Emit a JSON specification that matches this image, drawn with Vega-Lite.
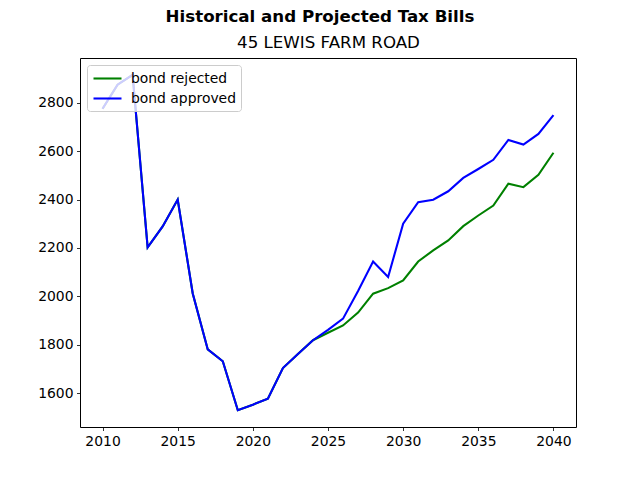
{
  "$schema": "https://vega.github.io/schema/vega-lite/v6.json",
  "width": 496,
  "height": 369,
  "autosize": "none",
  "padding": {"left": 80, "top": 58, "right": 64, "bottom": 53},
  "background": "white",
  "title": {
    "text": "Historical and Projected Tax Bills",
    "font": "DejaVu Sans",
    "fontSize": 16.67,
    "fontWeight": "bold",
    "color": "black",
    "anchor": "middle",
    "frame": "group",
    "dx": -8,
    "offset": 8
  },
  "data": {
    "values": [
      {"year": 2010, "scenario": "bond rejected", "bill": 2775},
      {"year": 2011, "scenario": "bond rejected", "bill": 2874},
      {"year": 2012, "scenario": "bond rejected", "bill": 2915},
      {"year": 2013, "scenario": "bond rejected", "bill": 2202},
      {"year": 2014, "scenario": "bond rejected", "bill": 2289},
      {"year": 2015, "scenario": "bond rejected", "bill": 2400},
      {"year": 2016, "scenario": "bond rejected", "bill": 2012},
      {"year": 2017, "scenario": "bond rejected", "bill": 1781},
      {"year": 2018, "scenario": "bond rejected", "bill": 1732},
      {"year": 2019, "scenario": "bond rejected", "bill": 1530},
      {"year": 2020, "scenario": "bond rejected", "bill": 1553},
      {"year": 2021, "scenario": "bond rejected", "bill": 1578},
      {"year": 2022, "scenario": "bond rejected", "bill": 1704},
      {"year": 2023, "scenario": "bond rejected", "bill": 1762},
      {"year": 2024, "scenario": "bond rejected", "bill": 1819},
      {"year": 2025, "scenario": "bond rejected", "bill": 1850},
      {"year": 2026, "scenario": "bond rejected", "bill": 1880},
      {"year": 2027, "scenario": "bond rejected", "bill": 1933},
      {"year": 2028, "scenario": "bond rejected", "bill": 2011},
      {"year": 2029, "scenario": "bond rejected", "bill": 2034},
      {"year": 2030, "scenario": "bond rejected", "bill": 2066},
      {"year": 2031, "scenario": "bond rejected", "bill": 2144},
      {"year": 2032, "scenario": "bond rejected", "bill": 2190},
      {"year": 2033, "scenario": "bond rejected", "bill": 2231},
      {"year": 2034, "scenario": "bond rejected", "bill": 2290},
      {"year": 2035, "scenario": "bond rejected", "bill": 2334},
      {"year": 2036, "scenario": "bond rejected", "bill": 2375},
      {"year": 2037, "scenario": "bond rejected", "bill": 2465},
      {"year": 2038, "scenario": "bond rejected", "bill": 2451},
      {"year": 2039, "scenario": "bond rejected", "bill": 2502},
      {"year": 2040, "scenario": "bond rejected", "bill": 2593},
      {"year": 2010, "scenario": "bond approved", "bill": 2775},
      {"year": 2011, "scenario": "bond approved", "bill": 2874},
      {"year": 2012, "scenario": "bond approved", "bill": 2915},
      {"year": 2013, "scenario": "bond approved", "bill": 2202},
      {"year": 2014, "scenario": "bond approved", "bill": 2289},
      {"year": 2015, "scenario": "bond approved", "bill": 2400},
      {"year": 2016, "scenario": "bond approved", "bill": 2012},
      {"year": 2017, "scenario": "bond approved", "bill": 1781},
      {"year": 2018, "scenario": "bond approved", "bill": 1732},
      {"year": 2019, "scenario": "bond approved", "bill": 1530},
      {"year": 2020, "scenario": "bond approved", "bill": 1553},
      {"year": 2021, "scenario": "bond approved", "bill": 1578},
      {"year": 2022, "scenario": "bond approved", "bill": 1704},
      {"year": 2023, "scenario": "bond approved", "bill": 1762},
      {"year": 2024, "scenario": "bond approved", "bill": 1819},
      {"year": 2025, "scenario": "bond approved", "bill": 1862},
      {"year": 2026, "scenario": "bond approved", "bill": 1908},
      {"year": 2027, "scenario": "bond approved", "bill": 2022},
      {"year": 2028, "scenario": "bond approved", "bill": 2144},
      {"year": 2029, "scenario": "bond approved", "bill": 2080},
      {"year": 2030, "scenario": "bond approved", "bill": 2300},
      {"year": 2031, "scenario": "bond approved", "bill": 2389},
      {"year": 2032, "scenario": "bond approved", "bill": 2399},
      {"year": 2033, "scenario": "bond approved", "bill": 2434},
      {"year": 2034, "scenario": "bond approved", "bill": 2489},
      {"year": 2035, "scenario": "bond approved", "bill": 2526},
      {"year": 2036, "scenario": "bond approved", "bill": 2564},
      {"year": 2037, "scenario": "bond approved", "bill": 2646},
      {"year": 2038, "scenario": "bond approved", "bill": 2627},
      {"year": 2039, "scenario": "bond approved", "bill": 2671},
      {"year": 2040, "scenario": "bond approved", "bill": 2748}
    ]
  },
  "layer": [
    {
      "mark": {"type": "line", "strokeWidth": 2.08},
      "encoding": {
        "x": {
          "field": "year",
          "type": "quantitative",
          "scale": {"domain": [2008.5, 2041.5], "nice": false, "zero": false},
          "axis": {"orient": "bottom", "values": [2010, 2015, 2020, 2025, 2030, 2035, 2040], "format": "d", "title": null}
        },
        "y": {
          "field": "bill",
          "type": "quantitative",
          "scale": {"domain": [1460.75, 2984.25], "nice": false, "zero": false},
          "axis": {"values": [1600, 1800, 2000, 2200, 2400, 2600, 2800], "format": "d", "title": null}
        },
        "color": {
          "field": "scenario",
          "type": "nominal",
          "sort": ["bond rejected", "bond approved"],
          "scale": {"domain": ["bond rejected", "bond approved"], "range": ["#008000", "#0000ff"]},
          "legend": {"title": null}
        }
      }
    },
    {
      "mark": {"type": "point", "opacity": 0},
      "encoding": {
        "x": {
          "field": "year",
          "type": "quantitative",
          "axis": {
            "orient": "top",
            "title": "45 LEWIS FARM ROAD",
            "labels": false,
            "ticks": false,
            "domain": false,
            "titlePadding": 7,
            "titleFont": "DejaVu Sans",
            "titleFontSize": 16.67,
            "titleFontWeight": "normal",
            "titleColor": "black"
          }
        }
      }
    }
  ],
  "resolve": {"axis": {"x": "independent"}},
  "config": {
    "view": {"stroke": "black", "strokeWidth": 1},
    "axis": {
      "domain": false,
      "grid": false,
      "ticks": true,
      "tickColor": "black",
      "tickSize": 3.5,
      "tickWidth": 0.8,
      "labelPadding": 3.5,
      "labelFont": "DejaVu Sans",
      "labelFontSize": 13.9,
      "labelColor": "black"
    },
    "legend": {
      "orient": "top-left",
      "offset": 7,
      "fillColor": "rgba(255,255,255,0.8)",
      "strokeColor": "#cccccc",
      "cornerRadius": 3,
      "padding": 5,
      "symbolType": "M-1,0H3",
      "symbolStrokeWidth": 2.08,
      "symbolSize": 196,
      "labelFont": "DejaVu Sans",
      "labelFontSize": 13.9,
      "labelColor": "black",
      "labelOffset": 22,
      "rowPadding": 4
    }
  }
}
